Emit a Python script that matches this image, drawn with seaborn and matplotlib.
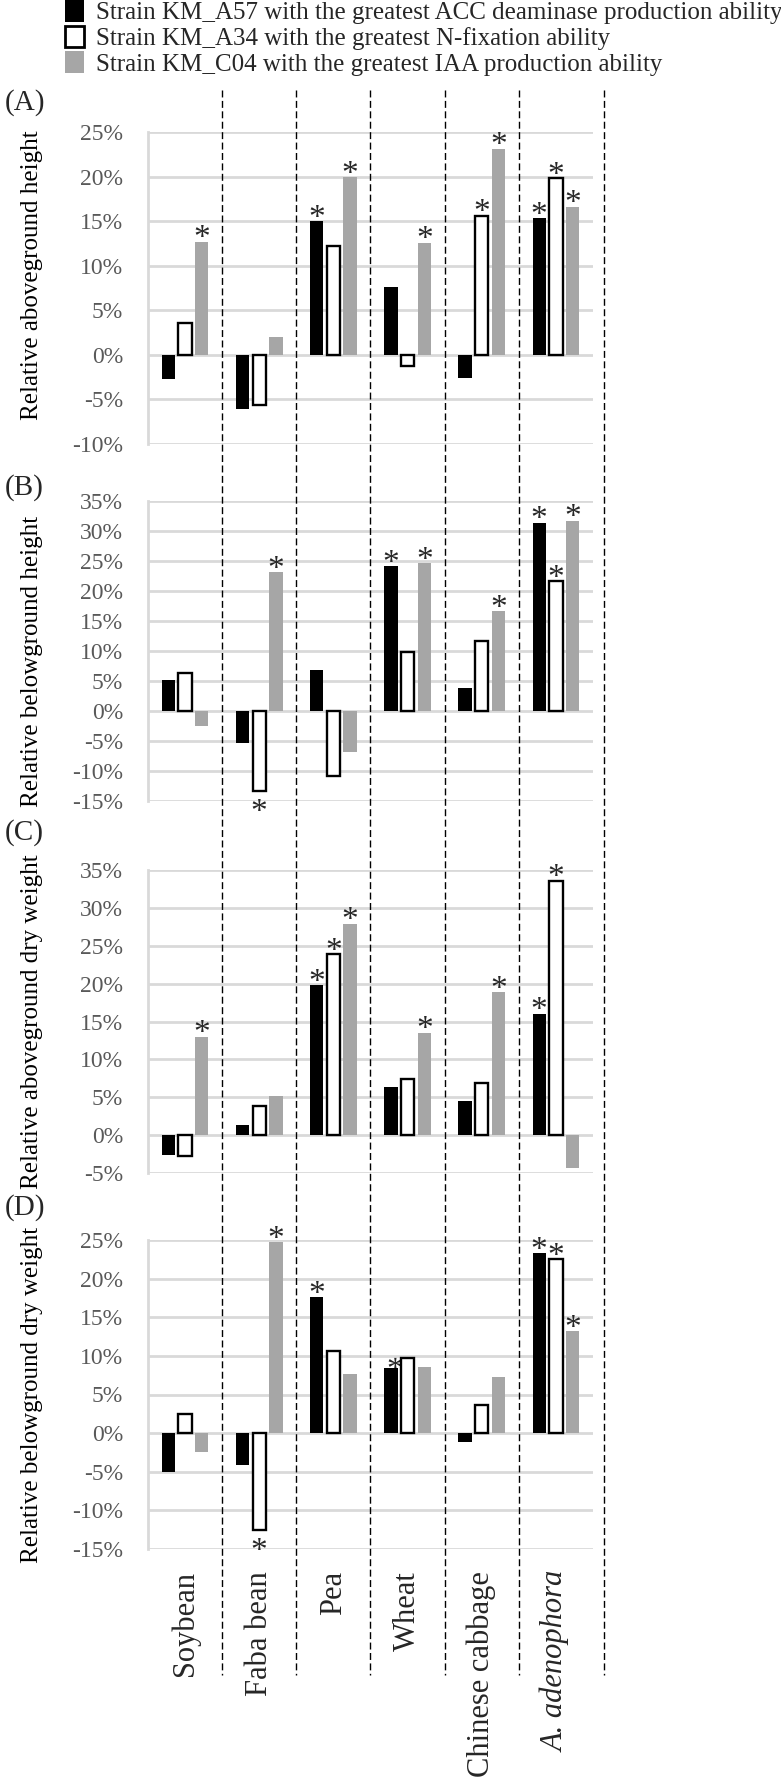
import pandas as pd
import seaborn as sns
import matplotlib.pyplot as plt
from matplotlib.lines import Line2D
from matplotlib.patches import Patch
from matplotlib.ticker import FuncFormatter, MultipleLocator

# categories and series
crops = ["Soybean", "Faba bean", "Pea", "Wheat", "Chinese cabbage", "A. adenophora"]
strains = [
    "Strain KM_A57 with the greatest ACC deaminase production ability",
    "Strain KM_A34 with the greatest N-fixation ability",
    "Strain KM_C04 with the greatest IAA production ability",
]

# (A) relative aboveground height, %
a_a57 = [-2.7, -6.1, 15.0, 7.6, -2.6, 15.3]
a_a34 = [3.6, -5.6, 12.2, -1.2, 15.6, 19.8]
a_c04 = [12.7, 2.0, 19.9, 12.6, 23.1, 16.6]
a_sig = [[0, 0, 1, 0, 0, 1], [0, 0, 0, 0, 1, 1], [1, 0, 1, 1, 1, 1]]

# (B) relative belowground height, %
b_a57 = [5.1, -5.4, 6.9, 24.1, 3.8, 31.4]
b_a34 = [6.4, -13.3, -10.9, 9.9, 11.7, 21.6]
b_c04 = [-2.5, 23.1, -6.9, 24.6, 16.6, 31.7]
b_sig = [[0, 0, 0, 1, 0, 1], [0, 1, 0, 0, 0, 1], [0, 1, 0, 1, 1, 1]]

# (C) relative aboveground dry weight, %
c_a57 = [-2.6, 1.4, 19.8, 6.4, 4.5, 16.0]
c_a34 = [-2.8, 3.8, 23.9, 7.4, 6.9, 33.6]
c_c04 = [13.0, 5.2, 27.9, 13.5, 18.9, -4.4]
c_sig = [[0, 0, 1, 0, 0, 1], [0, 0, 1, 0, 0, 1], [1, 0, 1, 1, 1, 0]]

# (D) relative belowground dry weight, %
d_a57 = [-5.0, -4.1, 17.6, 8.4, -1.2, 23.3]
d_a34 = [2.5, -12.5, 10.6, 9.7, 3.7, 22.5]
d_c04 = [-2.5, 24.7, 7.7, 8.5, 7.3, 13.2]
d_sig = [[0, 0, 1, 2, 0, 1], [0, 1, 0, 0, 0, 1], [0, 1, 0, 0, 0, 1]]  # 2 = star half hidden

panels = [
    ("(A)", "Relative aboveground height", [a_a57, a_a34, a_c04], a_sig, (-10, 25)),
    ("(B)", "Relative belowground height", [b_a57, b_a34, b_c04], b_sig, (-15, 35)),
    ("(C)", "Relative aboveground dry weight", [c_a57, c_a34, c_c04], c_sig, (-5, 35)),
    ("(D)", "Relative belowground dry weight", [d_a57, d_a34, d_c04], d_sig, (-15, 25)),
]

colors = ["#000000", "#ffffff", "#a6a6a6"]

sns.set_theme(style="white")
plt.rcParams["font.family"] = ["Liberation Serif", "DejaVu Serif"]

W, H = 781, 1780
fig = plt.figure(figsize=(W / 100, H / 100), dpi=100)

# axes boxes in pixels: top, bottom
boxes = [(132, 444), (501, 801), (870, 1173), (1240, 1549)]
letter_y = [103, 488, 833, 1208]
label_shift = [0.04, -0.035, 0.0, 0.0]
x0, x1 = 148, 593

axes = []
for i, (letter, ylab, series, sig, ylim) in enumerate(panels):
    top, bot = boxes[i]
    ax = fig.add_axes([x0 / W, 1 - bot / H, (x1 - x0) / W, (bot - top) / H])
    axes.append(ax)

    df = pd.DataFrame({
        "crop": crops * 3,
        "strain": [s for s in strains for _ in crops],
        "value": series[0] + series[1] + series[2],
    })
    sns.barplot(data=df, x="crop", y="value", hue="strain", order=crops,
                hue_order=strains, palette=colors, saturation=1,
                width=0.675, gap=0.2, linewidth=0, legend=False, ax=ax)
    for bar in ax.containers[1]:
        bar.set_edgecolor("black")
        bar.set_linewidth(1.7)

    # significance stars
    for k, cont in enumerate(ax.containers):
        for j, bar in enumerate(cont):
            flag = sig[k][j]
            if not flag:
                continue
            xc = bar.get_x() + bar.get_width() / 2
            v = series[k][j]
            if flag == 2:
                ax.annotate("*", (xc, v), xytext=(3, -2), textcoords="offset points",
                            ha="center", va="center", fontsize=24, zorder=0.5)
            elif v >= 0:
                ax.annotate("*", (xc, v), xytext=(0, -4), textcoords="offset points",
                            ha="center", va="baseline", fontsize=24, clip_on=False)
            else:
                ax.annotate("*", (xc, v), xytext=(0, -5), textcoords="offset points",
                            ha="center", va="top", fontsize=24, clip_on=False)

    ax.set_ylim(*ylim)
    ax.set_xlim(-0.5, 5.5)
    ax.yaxis.set_major_locator(MultipleLocator(5))
    ax.yaxis.set_major_formatter(FuncFormatter(lambda v, p: f"{v:.0f}%"))
    ax.grid(axis="y", color="#d9d9d9", lw=2)
    ax.grid(axis="x", visible=False)
    ax.set_axisbelow(True)
    for s in ["top", "right", "bottom"]:
        ax.spines[s].set_visible(False)
    ax.spines["left"].set_color("#d9d9d9")
    ax.spines["left"].set_linewidth(2)
    ax.tick_params(axis="y", length=0, pad=18, labelsize=17, labelcolor="#595959")
    ax.tick_params(axis="x", length=0)
    ax.set_xlabel("")
    ax.set_ylabel(ylab, fontsize=18, va="center", color="black")
    ax.yaxis.set_label_coords(-0.261, 0.5 + label_shift[i])
    if i < 3:
        ax.set_xticklabels([])
    fig.text(5 / W, 1 - letter_y[i] / H, letter, fontsize=21, ha="left", va="center")

# bottom category labels
axd = axes[-1]
axd.tick_params(axis="x", pad=16)
for lab in axd.get_xticklabels():
    lab.set_rotation(90)
    lab.set_fontsize(22)
    lab.set_va("top")
    lab.set_ha("center")
    if lab.get_text().startswith("A. "):
        lab.set_fontstyle("italic")

# dashed separators running through all panels
for xs in [0.5, 1.5, 2.5, 3.5, 4.5, 5.65]:
    xp = axd.transData.transform((xs, 0))[0] / fig.bbox.width
    fig.add_artist(Line2D([xp, xp], [1 - 90 / H, 1 - 1675 / H], color="black",
                          lw=1.0, linestyle=(0, (5, 2.5))))

# legend
handles = [Patch(facecolor=colors[0], edgecolor="black", lw=0),
           Patch(facecolor=colors[1], edgecolor="black", lw=2),
           Patch(facecolor=colors[2], edgecolor=colors[2], lw=0)]
fig.legend(handles, strains, loc="upper left", bbox_to_anchor=(65 / W, 1.0),
           frameon=False, fontsize=18, handlelength=0.75, handleheight=0.95,
           handletextpad=0.5, labelspacing=0.05, borderpad=0, borderaxespad=0)

fig.savefig("out.png", dpi=100)
